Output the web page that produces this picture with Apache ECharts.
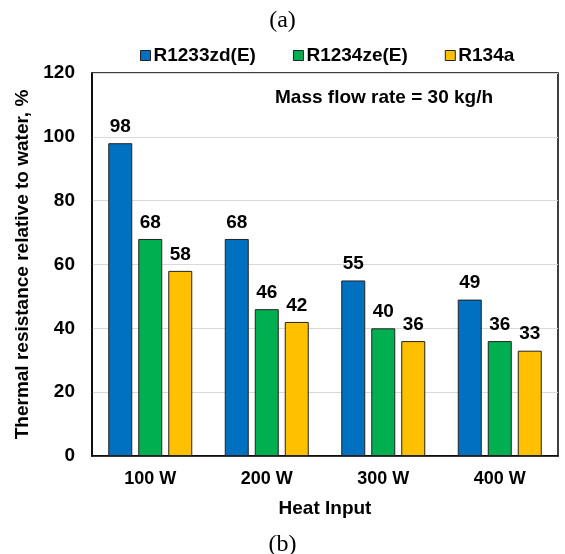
<!DOCTYPE html>
<html>
<head>
<meta charset="utf-8">
<script src="https://cdn.jsdelivr.net/npm/echarts@6/dist/echarts.min.js"></script>
<style>
  html, body { margin: 0; padding: 0; background: #fff; }
  #chart { width: 565px; height: 554px; }
</style>
</head>
<body>
<div id="chart"></div>
<script>
  var categories = ['100 W', '200 W', '300 W', '400 W']
  var seriesNames = ['R1233zd(E)', 'R1234ze(E)', 'R134a']
  var r1233zd = [98, 68, 55, 49]
  var r1234ze = [68, 46, 40, 36]
  var r134a = [58, 42, 36, 33]
  var colors = ['#0070C0', '#00B050', '#FFC000']

  var myChart = echarts.init(document.getElementById('chart'))

  function makeSeries (name, data, color) {
    return {
      name: name,
      type: 'bar',
      data: data,
      barWidth: 24,
      barGap: '25%',
      itemStyle: {
        color: color,
        borderColor: '#222',
        borderWidth: 1
      },
      label: {
        show: true,
        position: 'top',
        distance: 7,
        color: '#000',
        fontWeight: 'bold',
        fontSize: 19,
        fontFamily: 'Liberation Sans'
      }
    }
  }

  var option = {
    animation: false,
    color: colors,
    textStyle: { fontFamily: 'Liberation Sans' },
    title: [{
      text: '(a)',
      left: 'center',
      top: 4,
      textStyle: { fontFamily: 'Liberation Serif', fontSize: 24, fontWeight: 'normal', color: '#000' }
    }, {
      text: '(b)',
      left: 'center',
      top: 528,
      textStyle: { fontFamily: 'Liberation Serif', fontSize: 24, fontWeight: 'normal', color: '#000' }
    }, {
      text: 'Mass flow rate = 30 kg/h',
      left: 270,
      top: 83,
      textStyle: { fontFamily: 'Liberation Sans', fontSize: 19, fontWeight: 'bold', color: '#000' }
    }],
    legend: {
      data: seriesNames,
      top: 41,
      left: 135,
      itemWidth: 10,
      itemHeight: 10,
      itemGap: 37,
      icon: 'rect',
      itemStyle: { borderColor: '#222', borderWidth: 1 },
      textStyle: { fontSize: 19, fontWeight: 'bold', color: '#000', padding: [0, 0, 0, -2] }
    },
    grid: {
      left: 92,
      right: 7,
      top: 73,
      bottom: 98,
      show: true,
      borderColor: '#000',
      borderWidth: 1.5
    },
    xAxis: {
      type: 'category',
      data: categories,
      name: 'Heat Input',
      nameLocation: 'middle',
      nameGap: 43,
      nameTextStyle: { fontSize: 19, fontWeight: 'bold', color: '#000' },
      axisLine: { lineStyle: { color: '#000', width: 1.5 } },
      axisTick: { show: false },
      axisLabel: { fontSize: 18, fontWeight: 'bold', color: '#000', margin: 14 }
    },
    yAxis: {
      type: 'value',
      min: 0,
      max: 120,
      interval: 20,
      name: 'Thermal resistance relative to water, %',
      nameLocation: 'middle',
      nameGap: 55,
      nameTextStyle: { fontSize: 19, fontWeight: 'bold', color: '#000' },
      axisLine: { show: true, lineStyle: { color: '#000', width: 1.5 } },
      axisTick: { show: false },
      axisLabel: { fontSize: 19, fontWeight: 'bold', color: '#000', margin: 17 },
      splitLine: { lineStyle: { color: '#d9d9d9', width: 1 } }
    },
    series: [
      makeSeries(seriesNames[0], r1233zd, colors[0]),
      makeSeries(seriesNames[1], r1234ze, colors[1]),
      makeSeries(seriesNames[2], r134a, colors[2])
    ]
  }
  myChart.setOption(option)
</script>
</body>
</html>
